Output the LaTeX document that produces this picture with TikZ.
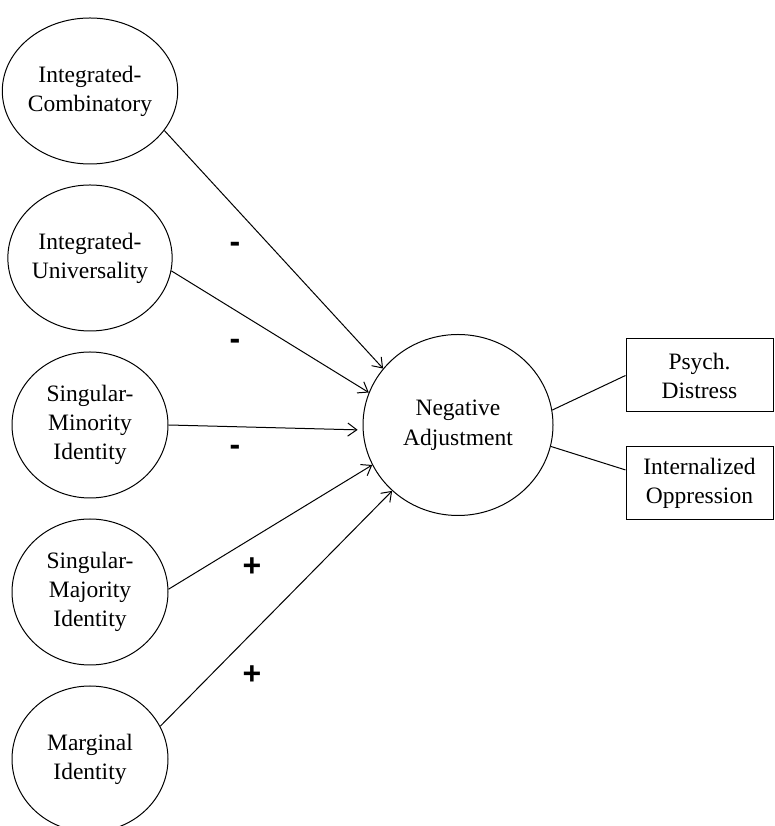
\documentclass[tikz,border=0pt]{standalone}
\usepackage{fontspec}
\setmainfont{Liberation Serif}
\newfontfamily\signfont{Liberation Sans}
\usetikzlibrary{shapes.geometric,arrows.meta,positioning}

\begin{document}
\begin{tikzpicture}[
    x=1pt, y=1pt,
    node distance=20pt and 73pt,
    factor/.style={ellipse, draw, line width=1pt, inner sep=0pt,
                minimum width=156pt, minimum height=146pt, align=center,
                font=\fontsize{23.5}{29}\selectfont},
    outcome/.style={ellipse, draw, line width=1pt, inner sep=0pt,
                minimum width=190pt, minimum height=181pt, align=center,
                font=\fontsize{23.5}{30}\selectfont},
    indic/.style={rectangle, draw, line width=1pt,
                minimum width=147pt, minimum height=73pt, align=center,
                font=\fontsize{23.5}{29}\selectfont},
    sign/.style={font=\signfont\bfseries\fontsize{32}{32}\selectfont},
    arrow/.style={-{Straight Barb[length=9pt,width=13pt]}, line width=1pt},
    link/.style={line width=1pt}
]
\useasboundingbox (0,0) rectangle (775,826);
% predictors
\node[factor] (comb) at (90,735) {Integrated-\\Combinatory};
\node[factor, below=of comb] (univ) {Integrated-\\Universality};
\node[factor, below=of univ] (minor) {Singular-\\Minority\\Identity};
\node[factor, below=of minor] (major) {Singular-\\Majority\\Identity};
\node[factor, below=of major] (marg) {Marginal\\Identity};
% outcome and indicators
\node[outcome] (adj) at (458,401) {Negative\\Adjustment};
\node[indic] (psych) at (699.5,450.5) {Psych.\\Distress};
\node[indic] (oppr) at (699.5,343) {Internalized\\Oppression};
\draw[arrow] (comb.-28) -- (adj.143);
\draw[arrow] (univ.-9) -- (adj.160);
\draw[arrow, shorten >=5pt] (minor.east) -- (adj.183);
\draw[arrow] (major.2) -- (adj.205);
\draw[arrow] (marg.25) -- (adj.225);
\draw[link] (adj.9) -- (psych.west);
\draw[link] (adj.-13) -- (oppr.170);
% signs
\node[sign] (s1) at (235,579) {-};
\node[sign] (s2) at (235,482) {-};
\node[sign] (s3) at (235,376) {-};
\node[sign] (s4) at (252,259) {+};
\node[sign] (s5) at (252,151) {+};
\end{tikzpicture}
\end{document}
